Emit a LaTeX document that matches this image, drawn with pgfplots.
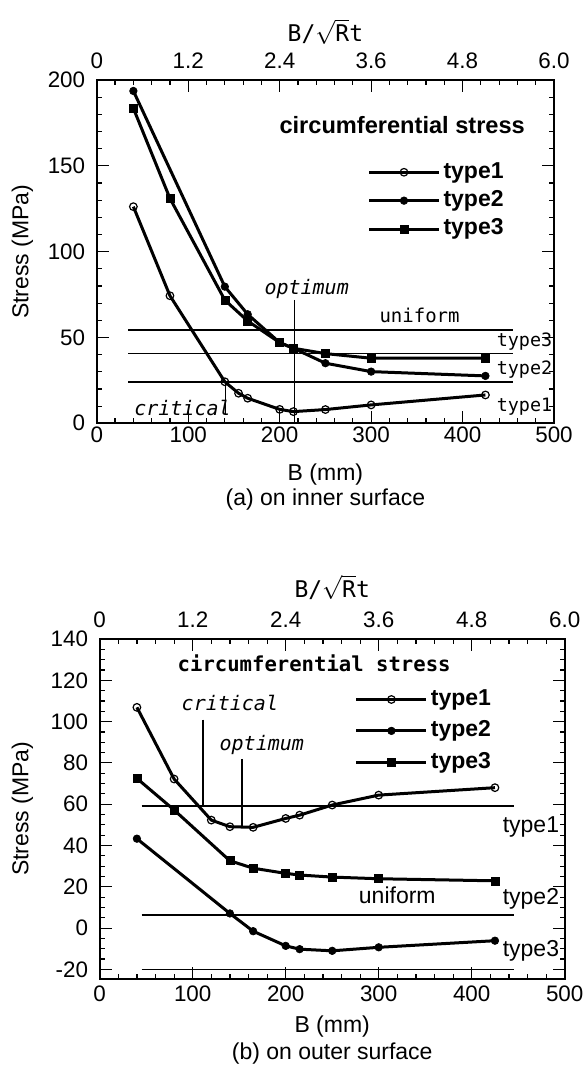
\documentclass[border=0pt]{standalone}
\usepackage{fontspec}
\setmainfont{Liberation Sans}
\newfontfamily\mono{DejaVu Sans Mono}
\usepackage{pgfplots}
\pgfplotsset{compat=1.18}
\pgfplotsset{
  base/.style={
    scale only axis, clip=false,
    xmin=0,xmax=500,
    xtick={0,100,...,500}, minor x tick num=4,
    tick align=inside,
    major tick length=6pt, minor tick length=2.5pt,
    tick style={black, line width=0.6pt},
    axis line style={line width=0.9pt},
    /pgf/number format/assume math mode=true,
    ticklabel style={font=\fontsize{11.2}{12}\selectfont},
    every axis plot/.append style={line width=1.5pt},
    legend image code/.code={\draw[mark repeat=2,mark phase=2,##1] plot coordinates {(0pt,0pt)(17.5pt,0pt)(35pt,0pt)};},
    legend cell align=left,
  },
  t1/.style={black, mark=o, mark size=1.9pt, mark options={solid, fill=white, line width=0.6pt}},
  t2/.style={black, mark=*, mark size=1.9pt, mark options={solid, line width=0.3pt}},
  t3/.style={black, mark=square*, mark size=2.0pt, mark options={solid, line width=0.3pt}},
  refl/.style={black, line width=0.75pt, forget plot, no marks},
  topax/.style={scale only axis, xmin=0, xmax=6, ymin=0, ymax=1,
    hide y axis, axis x line=top, x axis line style={-, line width=0.9pt},
    xtick={0,1.2,2.4,3.6,4.8,6}, xticklabels={0,1.2,2.4,3.6,4.8,6.0},
    major tick length=0pt, minor tick length=0pt,
    ticklabel style={font=\fontsize{11.2}{12}\selectfont},
    xticklabel style={yshift=2pt}},
}
\newcommand{\lab}{\fontsize{11.5}{13}\selectfont}
\begin{document}
\begin{tikzpicture}
\useasboundingbox (0,0) rectangle (293pt,534pt);
% ================= (a) =================
\begin{axis}[base, at={(48.4pt,322.35pt)}, anchor=south west,
  width=228.6pt, height=171.65pt,
  ymin=0, ymax=200, ytick={0,50,...,200}, minor y tick num=4,
  xticklabel style={yshift=1.5pt}, yticklabel style={xshift=-2.3pt},
  legend style={at={(axis cs:295.6,129.7)}, anchor=west, draw=none, fill=none,
    inner sep=0pt, row sep=0.2pt,
    font=\bfseries\fontsize{11.5}{12}\selectfont,
    nodes={inner sep=1.5pt, text height=8.4pt, text depth=2.6pt}}]
\addplot[t1] coordinates {(40,126.2)(80,74.3)(140,24.2)(155,17.5)(165,14.6)(200,8.1)(215,6.8)(250,8.0)(300,10.7)(425,16.5)};
\addlegendentry{type1}
\addplot[t2] coordinates {(40,193.6)(140,79.6)(165,63.5)(200,47)(215,43.7)(250,35)(300,30.1)(425,27.6)};
\addlegendentry{type2}
\addplot[t3] coordinates {(40,183.5)(80,131)(140,71.8)(165,59.6)(200,47)(215,43.7)(250,40.6)(300,37.9)(425,37.9)};
\addlegendentry{type3}
\addplot[refl] coordinates {(34.5,54.3)(455,54.3)};
\addplot[refl] coordinates {(34.5,40.8)(455,40.8)};
\addplot[refl] coordinates {(34.5,24.0)(455,24.0)};
\addplot[refl] coordinates {(216,71.9)(216,0)};
\addplot[refl] coordinates {(141,24.0)(141,4.8)};
\node[font=\bfseries\fontsize{11.8}{13}\selectfont] at (axis cs:334,173.8) {circumferential stress};
\node[font=\mono\itshape\fontsize{10}{11}\selectfont] at (axis cs:229.5,78) {optimum};
\node[font=\mono\fontsize{9.5}{11}\selectfont] at (axis cs:353,63) {uniform};
\node[font=\mono\fontsize{9.2}{11}\selectfont, anchor=west, inner sep=0pt] at (axis cs:437,47.5) {type3};
\node[font=\mono\fontsize{9.2}{11}\selectfont, anchor=west, inner sep=0pt] at (axis cs:437,31) {type2};
\node[font=\mono\fontsize{9.2}{11}\selectfont, anchor=west, inner sep=0pt] at (axis cs:437,9.7) {type1};
\node[font=\mono\itshape\fontsize{10}{11}\selectfont] at (axis cs:93.7,8.7) {critical};
\end{axis}
\begin{axis}[topax, at={(48.4pt,322.35pt)}, anchor=south west,
  width=228.6pt, height=171.65pt]
\end{axis}
\node[font=\lab] at (162.7pt,518pt) {{\mono B/}$\sqrt{\mbox{\mono R}}${\mono t}};
\node[font=\lab] at (162.7pt,296.5pt) {B (mm)};
\node[font=\lab] at (162.7pt,284pt) {(a) on inner surface};
\node[font=\lab, rotate=90] at (11.25pt,408.15pt) {Stress (MPa)};
% ================= (b) =================
\begin{axis}[base, at={(49.85pt,44.65pt)}, anchor=south west,
  width=232.5pt, height=169.85pt,
  ymin=-24.5, ymax=140, ytick={-20,0,...,140}, minor y tick num=3,
  yticklabel style={xshift=-2.3pt},
  legend style={at={(axis cs:274,95.5)}, anchor=west, draw=none, fill=none,
    inner sep=0pt, row sep=1.7pt,
    font=\bfseries\fontsize{11.5}{12}\selectfont,
    nodes={inner sep=1.5pt, text height=8.4pt, text depth=2.6pt}}]
\addplot[t1] coordinates {(40,106.9)(80,72.2)(120,52.3)(140,49.1)(165,48.8)(200,53.1)(215,54.7)(250,59.6)(300,64.4)(425,68)};
\addlegendentry{type1}
\addplot[t2] coordinates {(40,43.3)(140,7.1)(165,-1.5)(200,-8.6)(215,-10.2)(250,-11)(300,-9.3)(425,-6.1)};
\addlegendentry{type2}
\addplot[t3] coordinates {(40,72.5)(80,57.2)(140,32.6)(165,29)(200,26.5)(215,25.7)(250,24.7)(300,23.9)(425,22.9)};
\addlegendentry{type3}
\addplot[refl] coordinates {(45,59.2)(445,59.2)};
\addplot[refl] coordinates {(45,6.4)(445,6.4)};
\addplot[refl] coordinates {(45,-20)(445,-20)};
\addplot[refl] coordinates {(111,101)(111,59)};
\addplot[refl] coordinates {(153,82)(153,49)};
\node[font=\mono\bfseries\fontsize{10.3}{12}\selectfont] at (axis cs:230.6,128.2) {circumferential stress};
\node[font=\mono\itshape\fontsize{10}{11}\selectfont] at (axis cs:140,109) {critical};
\node[font=\mono\itshape\fontsize{10}{11}\selectfont] at (axis cs:174.3,88.6) {optimum};
\node[font=\lab] at (axis cs:320,16) {uniform};
\node[font=\lab, anchor=west, inner sep=0pt] at (axis cs:433,49) {type1};
\node[font=\lab, anchor=west, inner sep=0pt] at (axis cs:433,14.4) {type2};
\node[font=\lab, anchor=west, inner sep=0pt] at (axis cs:433,-11) {type3};
\end{axis}
\begin{axis}[topax, at={(49.85pt,44.65pt)}, anchor=south west,
  width=232.5pt, height=169.85pt]
\end{axis}
\node[font=\lab] at (166.1pt,240.35pt) {{\mono B/}$\sqrt{\mbox{\mono R}}${\mono t}};
\node[font=\lab] at (166.1pt,20.65pt) {B (mm)};
\node[font=\lab] at (166.1pt,7.35pt) {(b) on outer surface};
\node[font=\lab, rotate=90] at (11.25pt,129.6pt) {Stress (MPa)};
\end{tikzpicture}
\end{document}
